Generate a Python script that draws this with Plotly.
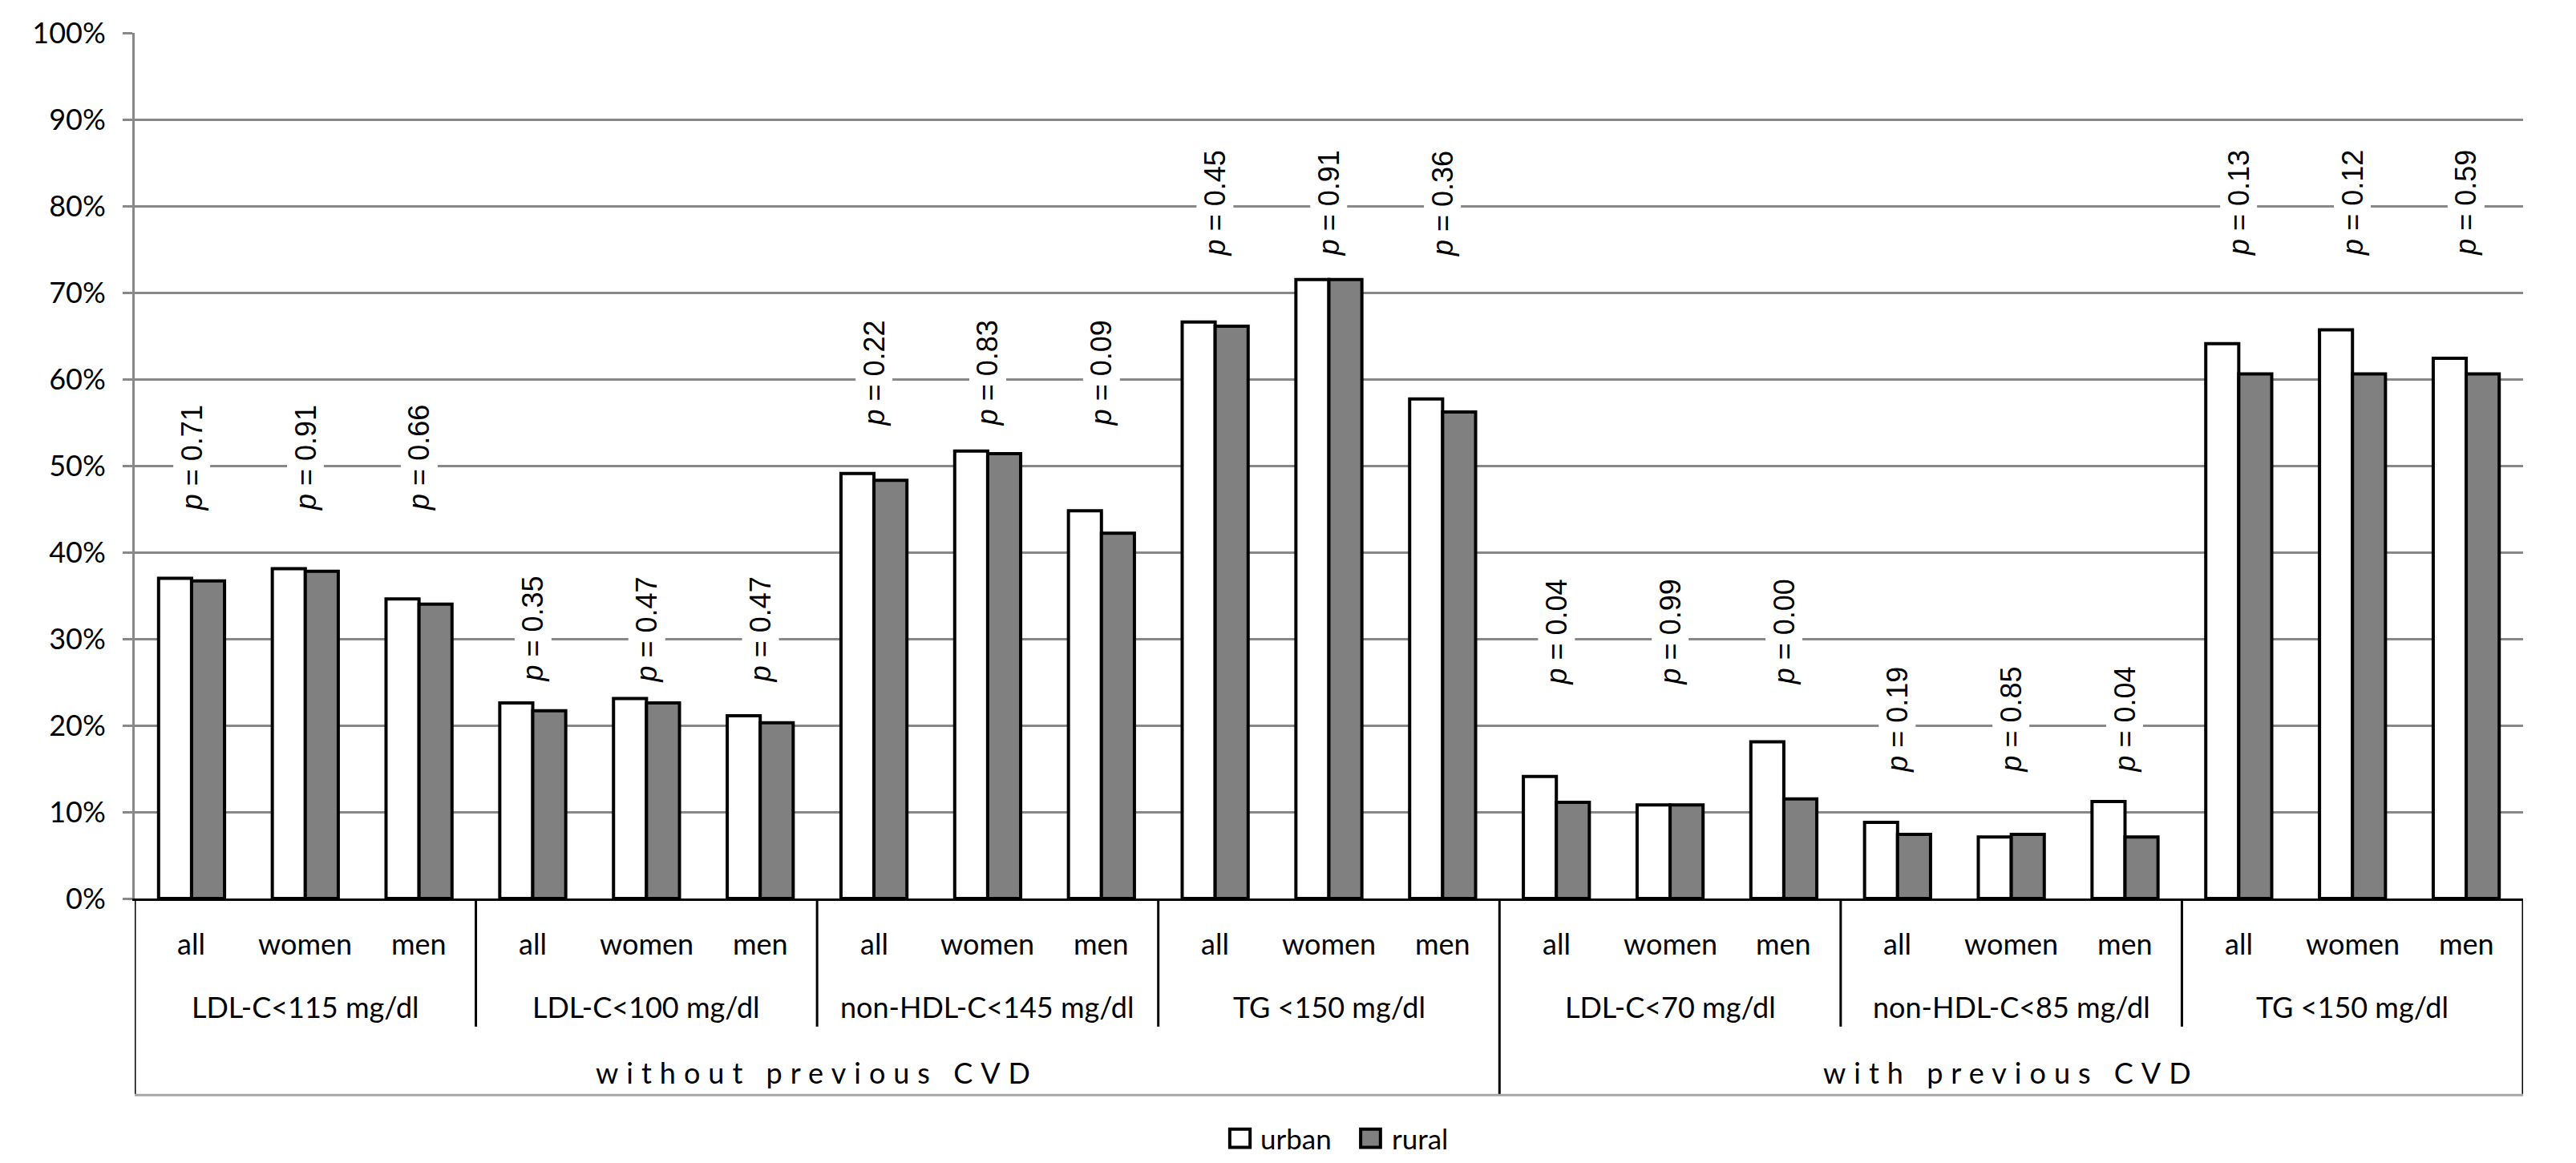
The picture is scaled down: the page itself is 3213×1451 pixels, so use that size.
import plotly.graph_objects as go

# ---------------- data ----------------
subgroups = ["all", "women", "men"] * 7
groups = ["LDL-C&lt;115 mg/dl", "LDL-C&lt;100 mg/dl", "non-HDL-C&lt;145 mg/dl", "TG &lt;150 mg/dl",
          "LDL-C&lt;70 mg/dl", "non-HDL-C&lt;85 mg/dl", "TG &lt;150 mg/dl"]
top_groups = ["without previous CVD", "with previous CVD"]
top_group_sizes = [4, 3]  # number of groups in each top group
series_names = ["urban", "rural"]

urban = [37.0, 38.1, 34.6, 22.6, 23.1, 21.1, 49.1, 51.7, 44.8, 66.6, 71.5, 57.7,
         14.1, 10.8, 18.1, 8.8, 7.1, 11.2, 64.1, 65.7, 62.4]
rural = [36.7, 37.8, 34.0, 21.7, 22.6, 20.3, 48.3, 51.4, 42.2, 66.1, 71.5, 56.2,
         11.1, 10.8, 11.5, 7.4, 7.4, 7.1, 60.6, 60.6, 60.6]
p_values = ["0.71", "0.91", "0.66", "0.35", "0.47", "0.47", "0.22", "0.83", "0.09",
            "0.45", "0.91", "0.36", "0.04", "0.99", "0.00", "0.19", "0.85", "0.04",
            "0.13", "0.12", "0.59"]
# vertical centre (in %) of the rotated p-value label of each group
p_label_level = [50.9, 31.1, 60.7, 80.3, 30.8, 20.65, 80.4]

y_ticks = list(range(0, 101, 10))
y_tick_text = [f"{v}%" for v in y_ticks]

# ---------------- figure ----------------
n = len(subgroups)
x = list(range(n))
LBL_FONT = "Lato"
TXT = dict(family=LBL_FONT, size=36, color="black")
colors = {"urban": "white", "rural": "#808080"}

fig = go.Figure()
for name, vals in zip(series_names, (urban, rural)):
    fig.add_bar(x=x, y=vals, name=name, showlegend=False,
                marker=dict(color=colors[name], line=dict(color="black", width=4)))

row_sub = -0.052
row_grp = -0.125
row_top = -0.201
sep_short = -0.148
sep_long = -0.227

ann = []
for i, s in enumerate(subgroups):
    ann.append(dict(x=i, y=row_sub, xref="x", yref="paper", text=s, showarrow=False,
                    font=TXT, xanchor="center", yanchor="middle"))
for g, name in enumerate(groups):
    ann.append(dict(x=3 * g + 1, y=row_grp, xref="x", yref="paper", text=name,
                    showarrow=False, font=TXT, xanchor="center", yanchor="middle"))
start = -0.5
for t, (name, size) in enumerate(zip(top_groups, top_group_sizes)):
    end = start + 3 * size
    ann.append(dict(x=(start + end) / 2, y=row_top, xref="x", yref="paper",
                    text='<span style="letter-spacing:10px">' + name + '</span>',
                    showarrow=False, font=TXT, xanchor="center", yanchor="middle"))
    start = end
for i, p in enumerate(p_values):
    ann.append(dict(x=i, y=p_label_level[i // 3], xref="x", yref="y",
                    text="<i>p</i> = " + p, textangle=-90, showarrow=False,
                    font=dict(family="Liberation Sans", size=36, color="black"),
                    bgcolor="white", borderpad=2, xanchor="center", yanchor="middle"))

shapes = []
# separators between groups
for g in range(1, len(groups)):
    xb = 3 * g - 0.5
    long = (g == top_group_sizes[0])
    shapes.append(dict(type="line", xref="x", yref="paper", x0=xb, x1=xb, y0=0,
                       y1=sep_long if long else sep_short,
                       line=dict(color="black", width=3)))
# outer borders of the category table
for xb in (-0.5, n - 0.5):
    shapes.append(dict(type="line", xref="x", yref="paper", x0=xb, x1=xb, y0=0,
                       y1=sep_long, line=dict(color="black", width=3)))
shapes.append(dict(type="line", xref="x", yref="paper", x0=-0.5, x1=n - 0.5,
                   y0=sep_long, y1=sep_long, line=dict(color="#A6A6A6", width=3)))

# legend (drawn as keys + labels below the table)
leg_y = -0.277
leg_keys = [(0.4585, 0.4670, 0.4706), (0.5133, 0.5216, 0.5257)]  # key x0, key x1, label x
for name, (k0, k1, lx) in zip(series_names, leg_keys):
    shapes.append(dict(type="rect", xref="paper", yref="paper", x0=k0, x1=k1,
                       y0=leg_y - 0.0105, y1=leg_y + 0.0105,
                       fillcolor=colors[name], line=dict(color="black", width=4)))
    ann.append(dict(x=lx, y=leg_y, xref="paper", yref="paper", text=name, showarrow=False,
                    font=dict(family=LBL_FONT, size=35, color="black"),
                    xanchor="left", yanchor="middle"))

fig.update_layout(
    width=3213, height=1451,
    margin=dict(l=168, r=66, t=41, b=330),
    paper_bgcolor="white", plot_bgcolor="white",
    barmode="group", bargap=0.42, bargroupgap=0,
    showlegend=False,
    annotations=ann, shapes=shapes,
    xaxis=dict(range=[-0.5, n - 0.5], showticklabels=False, showgrid=False,
               zeroline=False, showline=True, linecolor="black", linewidth=3, ticks=""),
    yaxis=dict(range=[0, 100], tickvals=y_ticks, ticktext=y_tick_text, showgrid=True,
               gridcolor="#888888", gridwidth=3, zeroline=False, showline=True,
               linecolor="#888888", linewidth=3, ticks="outside", ticklen=12,
               tickcolor="#888888", tickwidth=3, ticklabelstandoff=14,
               tickfont=dict(family=LBL_FONT, size=36, color="black")),
)

fig.write_html("out.html", config={"displayModeBar": False},
               post_script="document.body.style.margin='0';document.body.style.overflow='hidden';")
